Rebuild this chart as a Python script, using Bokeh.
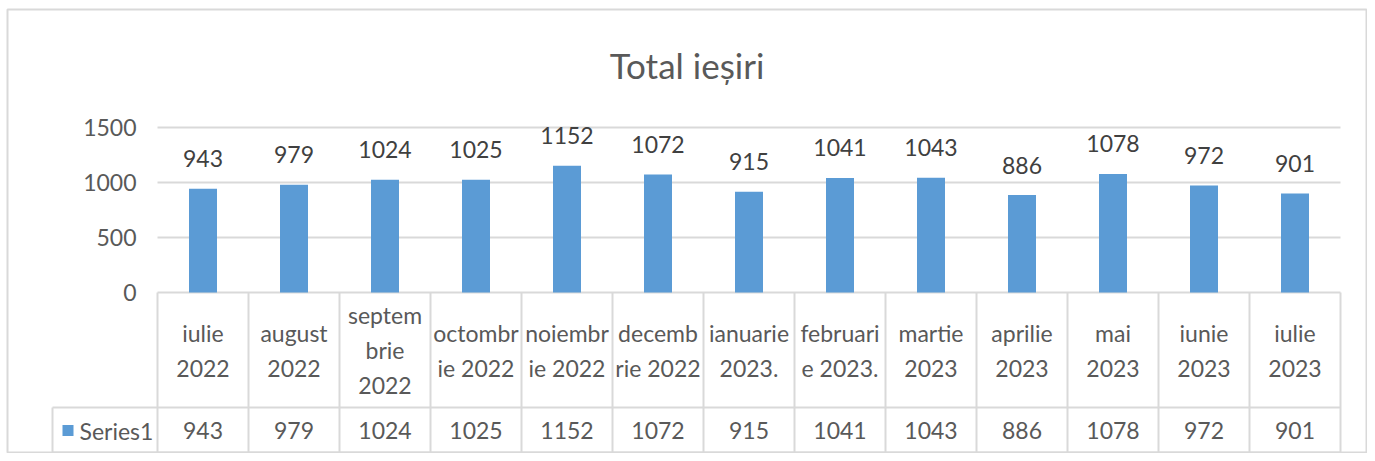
from bokeh.plotting import figure
from bokeh.models import Range1d, LinearAxis, FixedTicker
from bokeh.core.properties import value
from bokeh.embed import file_html
from bokeh.resources import INLINE

# ---------------- data ----------------
title_text = "Total ieșiri"
month_labels = [
    "iulie\n2022", "august\n2022", "septem\nbrie\n2022", "octombr\nie 2022",
    "noiembr\nie 2022", "decemb\nrie 2022", "ianuarie\n2023.", "februari\ne 2023.",
    "martie\n2023", "aprilie\n2023", "mai\n2023", "iunie\n2023", "iulie\n2023",
]
values = [943, 979, 1024, 1025, 1152, 1072, 915, 1041, 1043, 886, 1078, 972, 901]
series_name = "Series1"
y_ticks = [0, 500, 1000, 1500]

# ---------------- layout (page pixels) ----------------
FONT = "Lato"
W, H = 1367, 453
FR_LEFT, FR_TOP, FR_RIGHT, FR_BOTTOM = 7, 9, 1366, 453   # chart box on the page
COL = 91.0            # column width in px
PLOT_LEFT = 157       # page x of plot area left edge
PLOT_BOTTOM = 292     # page y of value 0
PX_PER_UNIT = 0.11    # px per value unit
HDR_BOTTOM = 407
TBL_BOTTOM = 452
LEG_LEFT = 52
TITLE_MID = 64

GRID = "#d9d9d9"
BAR = "#5B9BD5"
TXT = "#595959"
LBL = "#404040"
FS = "23px"


def xd(px):
    return (px - PLOT_LEFT) / COL


def yd(py):
    return (PLOT_BOTTOM - py) / PX_PER_UNIT


n = len(values)
xc = [i + 0.5 for i in range(n)]

x_range = Range1d(xd(FR_LEFT), xd(FR_RIGHT))
y_range = Range1d(yd(FR_BOTTOM), yd(FR_TOP))

p = figure(width=W, height=H, x_range=x_range, y_range=y_range,
           output_backend="svg", toolbar_location=None,
           x_axis_location=None, y_axis_location=None,
           min_border_left=FR_LEFT, min_border_top=FR_TOP,
           min_border_right=W - FR_RIGHT, min_border_bottom=H - FR_BOTTOM)
p.grid.visible = False
p.outline_line_color = GRID
p.outline_line_width = 2
p.background_fill_color = "white"
p.border_fill_color = "white"

# y axis at the plot-area left edge
yaxis = LinearAxis(fixed_location=0, ticker=FixedTicker(ticks=y_ticks),
                   axis_line_color=None, major_tick_line_color=None,
                   minor_tick_line_color=None, major_tick_in=0, major_tick_out=0,
                   minor_tick_in=0, minor_tick_out=0,
                   major_label_standoff=21,
                   major_label_text_font=FONT,
                   major_label_text_font_size=FS,
                   major_label_text_color=TXT)
p.add_layout(yaxis, "left")

# gridlines (including 0 line = table top)
p.segment(x0=[0] * len(y_ticks), x1=[n] * len(y_ticks), y0=y_ticks, y1=y_ticks,
          line_color=GRID, line_width=2)

# bars
p.vbar(x=xc, top=values, bottom=0, width=28 / COL, fill_color=BAR, line_color=None)

# data labels
p.text(x=xc, y=values, text=[str(v) for v in values], y_offset=-30,
       text_align="center", text_baseline="middle",
       text_font=value(FONT), text_font_size=FS, text_color=LBL)

# title
p.text(x=[(xd(FR_LEFT) + xd(FR_RIGHT)) / 2], y=[yd(TITLE_MID)], text=[title_text],
       text_align="center", text_baseline="middle",
       text_font=value(FONT), text_font_size="35px", text_color=TXT)

# data table lines
y_hb = yd(HDR_BOTTOM)
y_tb = yd(TBL_BOTTOM)
p.segment(x0=[xd(LEG_LEFT), xd(LEG_LEFT)], x1=[n, n], y0=[y_hb, y_tb], y1=[y_hb, y_tb],
          line_color=GRID, line_width=2)
p.segment(x0=list(range(n + 1)), x1=list(range(n + 1)),
          y0=[0] * (n + 1), y1=[y_tb] * (n + 1), line_color=GRID, line_width=2)
p.segment(x0=[xd(LEG_LEFT)], x1=[xd(LEG_LEFT)], y0=[y_hb], y1=[y_tb],
          line_color=GRID, line_width=2)

# header labels
p.text(x=xc, y=[yd((PLOT_BOTTOM + HDR_BOTTOM) / 2)] * n, text=month_labels,
       text_align="center", text_baseline="middle", text_line_height=1.25,
       text_font=value(FONT), text_font_size=FS, text_color=TXT)

# series row
y_row = yd((HDR_BOTTOM + TBL_BOTTOM) / 2 + 0.5)
p.text(x=xc, y=[y_row] * n, text=[str(v) for v in values],
       text_align="center", text_baseline="middle",
       text_font=value(FONT), text_font_size=FS, text_color=TXT)
p.scatter(x=[xd(67.5)], y=[y_row], marker="square", size=11,
          fill_color=BAR, line_color=None)
p.text(x=[xd(79)], y=[y_row], text=[series_name],
       text_align="left", text_baseline="middle",
       text_font=value(FONT), text_font_size=FS, text_color=TXT)

open("out.html", "w").write(file_html(p, INLINE))
